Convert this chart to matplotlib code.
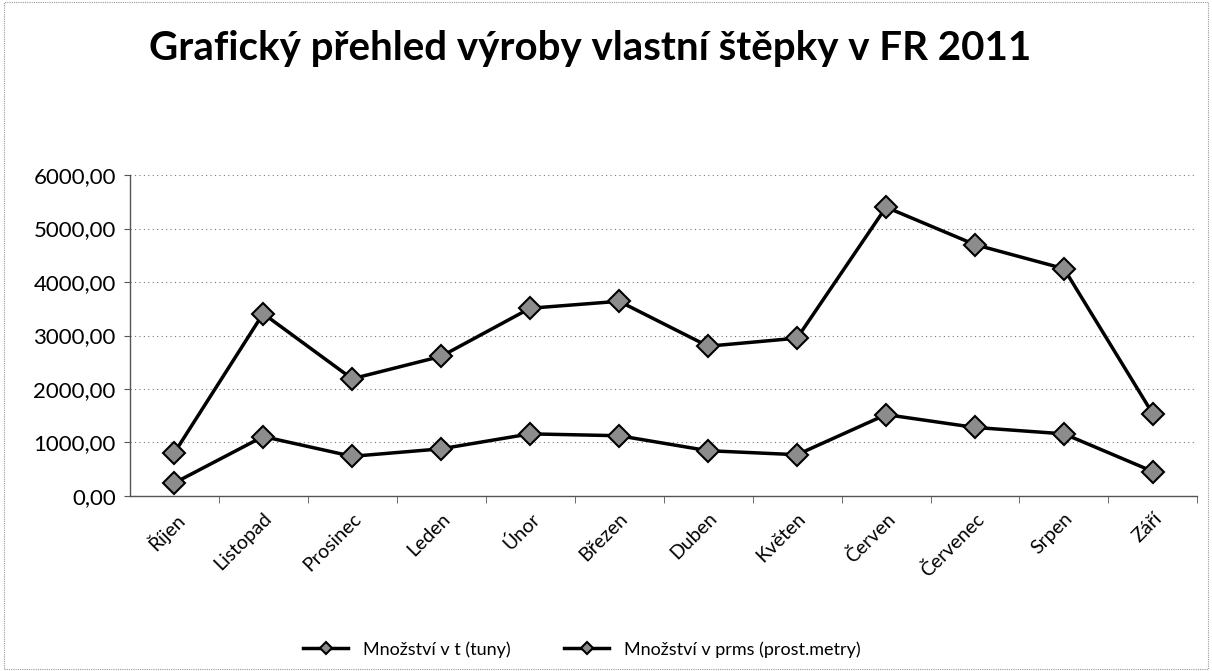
import matplotlib
matplotlib.use("Agg")
import matplotlib.pyplot as plt
from matplotlib.ticker import FuncFormatter

months = ["Říjen", "Listopad", "Prosinec", "Leden", "Únor", "Březen", "Duben",
          "Květen", "Červen", "Červenec", "Srpen", "Září"]
tuny = [240, 1110, 740, 880, 1160, 1125, 845, 770, 1520, 1280, 1160, 455]
prms = [800, 3410, 2190, 2610, 3510, 3640, 2800, 2950, 5400, 4700, 4250, 1530]
yticks = [0, 1000, 2000, 3000, 4000, 5000, 6000]
title = "Grafický přehled výroby vlastní štěpky v FR 2011"
labels = ["Množství v t (tuny)", "Množství v prms (prost.metry)"]

plt.rcParams['font.family'] = ['Lato', 'DejaVu Sans']

fig = plt.figure(figsize=(12.12, 6.71), dpi=100)
fig.patches.append(plt.Rectangle((0.003, 0.003), 0.994, 0.994, transform=fig.transFigure,
                                 fill=False, edgecolor="#999999", linewidth=0.8, linestyle=(0, (1, 1))))
ax = fig.add_axes([0.107, 0.261, 0.881, 0.478])

x = list(range(len(months)))
mk = dict(marker="D", markersize=11, markerfacecolor="#8c8c8c", markeredgecolor="black",
          markeredgewidth=1.5, color="black", linewidth=2.5)
ax.plot(x, tuny, label=labels[0], **mk)
ax.plot(x, prms, label=labels[1], **mk)

ax.set_xlim(-0.5, len(months) - 0.5)
ax.set_ylim(0, 6000)
ax.set_yticks(yticks)
ax.yaxis.set_major_formatter(FuncFormatter(lambda v, p: f"{v:.2f}".replace(".", ",")))
ax.grid(axis="y", linestyle=(0, (1, 3)), color="#777777", linewidth=0.8)
ax.set_xticks(x)
ax.set_xticklabels(months, rotation=45, ha="right", rotation_mode="anchor", fontsize=14)
ax.set_xticks([i + 0.5 for i in x], minor=True)
ax.tick_params(axis="x", which="major", length=0, pad=10)
ax.tick_params(axis="x", which="minor", length=5, color="#555555")
ax.tick_params(axis="y", labelsize=16, length=4, color="#555555", pad=6)
for s in ["top", "right"]:
    ax.spines[s].set_visible(False)
for s in ["left", "bottom"]:
    ax.spines[s].set_color("#555555")
    ax.spines[s].set_linewidth(1.0)

fig.text(0.487, 0.927, title, ha="center", va="center", fontsize=29, fontweight="bold")
fig.legend(loc="center", bbox_to_anchor=(0.48, 0.032), ncol=2, frameon=False, fontsize=13,
           handlelength=2.5, columnspacing=3, markerscale=0.6)

fig.savefig("out.png", dpi=100)
